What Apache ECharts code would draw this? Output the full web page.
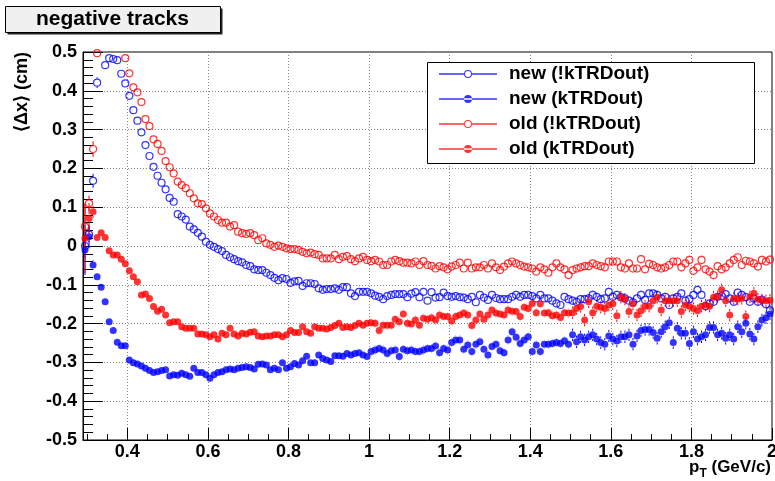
<!DOCTYPE html>
<html><head><meta charset="utf-8">
<script src="https://cdn.jsdelivr.net/npm/echarts@6/dist/echarts.min.js"></script>
<style>html,body{margin:0;padding:0;background:#fff}#c{width:775px;height:481px}</style>
</head><body><div id="c"></div><script>
// ---- binning ----
const PT_LOW = 0.29, BIN_WIDTH = 0.01;
const xTickLabels = [0.4, 0.6, 0.8, 1.0, 1.2, 1.4, 1.6, 1.8, 2.0];
const xMinorTicks = [0.3, 0.35, 0.45, 0.5, 0.55, 0.65, 0.7, 0.75, 0.85, 0.9, 0.95, 1.05, 1.1, 1.15,
  1.25, 1.3, 1.35, 1.45, 1.5, 1.55, 1.65, 1.7, 1.75, 1.85, 1.9, 1.95];
const seriesNames = ['new (!kTRDout)', 'new (kTRDout)', 'old (!kTRDout)', 'old (kTRDout)'];

// ---- <dx> per pT bin (null = off scale) ----
const newOpen = [
 0.000, 0.030, 0.168, 0.421, null, 0.466, 0.484, 0.482, 0.479, 0.444,
 0.419, 0.387, 0.350, 0.323, 0.293, 0.260, 0.232, 0.204, 0.181, 0.163,
 0.146, 0.124, 0.114, 0.082, 0.076, 0.068, 0.050, 0.043, 0.034, 0.024,
 0.011, 0.003, -0.002, -0.008, -0.013, -0.023, -0.029, -0.034, -0.039, -0.042,
 -0.049, -0.052, -0.060, -0.062, -0.062, -0.069, -0.075, -0.082, -0.088, -0.083,
 -0.085, -0.095, -0.091, -0.090, -0.103, -0.096, -0.096, -0.098, -0.109, -0.113,
 -0.111, -0.111, -0.109, -0.113, -0.106, -0.106, -0.122, -0.129, -0.118, -0.118,
 -0.118, -0.122, -0.128, -0.131, -0.137, -0.129, -0.126, -0.124, -0.124, -0.124,
 -0.132, -0.123, -0.119, -0.132, -0.118, -0.141, -0.119, -0.133, -0.132, -0.120,
 -0.129, -0.131, -0.129, -0.132, -0.133, -0.137, -0.131, -0.145, -0.126, -0.133,
 -0.139, -0.126, -0.134, -0.137, -0.137, -0.137, -0.131, -0.126, -0.131, -0.126,
 -0.126, -0.129, -0.135, -0.126, -0.135, -0.135, -0.141, -0.148, -0.152, -0.131,
 -0.137, -0.141, -0.144, -0.137, -0.137, -0.135, -0.126, -0.131, -0.137, -0.135,
 -0.118, -0.131, -0.126, -0.132, -0.135, -0.141, -0.145, -0.135, -0.126, -0.139,
 -0.122, -0.122, -0.126, -0.135, -0.131, -0.152, -0.135, -0.131, -0.122, -0.141,
 -0.137, -0.126, -0.113, -0.126, -0.155, -0.148, -0.144, -0.131, -0.129, -0.124,
 -0.135, -0.144, -0.120, -0.126, -0.132, -0.144, -0.135, -0.144, -0.138, -0.150,
 -0.166];
const newFull = [
 -0.010, 0.024, -0.049, -0.079, -0.106, -0.144, -0.195, -0.218, -0.248, -0.257,
 -0.257, -0.294, -0.301, -0.304, -0.309, -0.315, -0.321, -0.326, -0.324, -0.321,
 -0.319, -0.335, -0.332, -0.333, -0.328, -0.332, -0.336, -0.315, -0.326, -0.326,
 -0.332, -0.341, -0.332, -0.326, -0.324, -0.319, -0.317, -0.319, -0.315, -0.313,
 -0.311, -0.313, -0.317, -0.305, -0.304, -0.307, -0.319, -0.315, -0.319, -0.301,
 -0.315, -0.311, -0.303, -0.307, -0.296, -0.284, -0.301, -0.301, -0.281, -0.290,
 -0.294, -0.298, -0.283, -0.283, -0.284, -0.277, -0.281, -0.277, -0.275, -0.281,
 -0.285, -0.272, -0.268, -0.264, -0.268, -0.277, -0.270, -0.268, -0.285, -0.266,
 -0.270, -0.268, -0.272, -0.272, -0.268, -0.264, -0.264, -0.258, -0.275, -0.264,
 -0.268, -0.249, -0.242, -0.242, -0.266, -0.255, -0.272, -0.253, -0.247, -0.266,
 -0.281, -0.259, -0.253, -0.270, -0.275, -0.242, -0.221, -0.235, -0.251, -0.242,
 -0.234, -0.272, -0.255, -0.272, -0.253, -0.253, -0.251, -0.249, -0.251, -0.244,
 -0.253, -0.229, -0.247, -0.234, -0.242, -0.234, -0.229, -0.240, -0.249, -0.253,
 -0.232, -0.240, -0.245, -0.234, -0.234, -0.229, -0.253, -0.232, -0.218, -0.215,
 -0.215, -0.223, -0.238, -0.221, -0.208, -0.198, -0.249, -0.212, -0.225, -0.225,
 -0.251, -0.221, -0.240, -0.234, -0.229, -0.210, -0.210, -0.229, -0.225, -0.238,
 -0.229, -0.240, -0.208, -0.221, -0.199, -0.227, -0.240, -0.208, -0.191, -0.185,
 -0.175];
const oldOpen = [
 0.050, 0.110, 0.250, 0.497, null, null, null, null, null, null,
 0.484, 0.445, 0.409, 0.396, 0.371, 0.327, 0.309, 0.275, 0.263, 0.245,
 0.219, 0.203, 0.187, 0.166, 0.157, 0.149, 0.136, 0.123, 0.110, 0.108,
 0.097, 0.084, 0.076, 0.067, 0.060, 0.060, 0.050, 0.054, 0.037, 0.033,
 0.031, 0.033, 0.028, 0.015, 0.020, 0.007, 0.003, -0.002, 0.001, -0.002,
 -0.006, -0.008, -0.008, -0.010, -0.015, -0.019, -0.017, -0.021, -0.023, -0.032,
 -0.032, -0.032, -0.023, -0.034, -0.028, -0.026, -0.034, -0.039, -0.032, -0.028,
 -0.036, -0.039, -0.036, -0.040, -0.049, -0.049, -0.040, -0.036, -0.039, -0.043,
 -0.043, -0.045, -0.040, -0.049, -0.039, -0.049, -0.051, -0.058, -0.052, -0.055,
 -0.060, -0.053, -0.049, -0.043, -0.058, -0.043, -0.058, -0.055, -0.055, -0.049,
 -0.058, -0.045, -0.055, -0.062, -0.053, -0.045, -0.040, -0.045, -0.049, -0.053,
 -0.055, -0.058, -0.066, -0.055, -0.060, -0.069, -0.055, -0.045, -0.055, -0.060,
 -0.075, -0.062, -0.058, -0.055, -0.052, -0.052, -0.045, -0.049, -0.052, -0.055,
 -0.040, -0.040, -0.040, -0.055, -0.058, -0.045, -0.058, -0.058, -0.034, -0.060,
 -0.046, -0.049, -0.055, -0.058, -0.055, -0.049, -0.040, -0.040, -0.055, -0.045,
 -0.036, -0.064, -0.055, -0.036, -0.060, -0.066, -0.075, -0.052, -0.060, -0.055,
 -0.045, -0.036, -0.029, -0.049, -0.038, -0.040, -0.045, -0.053, -0.036, -0.040,
 -0.035];
const oldFull = [
 0.020, 0.071, 0.088, 0.022, 0.034, 0.022, -0.012, -0.023, -0.023, -0.034,
 -0.046, -0.064, -0.079, -0.092, -0.126, -0.124, -0.135, -0.156, -0.168, -0.163,
 -0.178, -0.198, -0.195, -0.195, -0.208, -0.212, -0.212, -0.212, -0.227, -0.227,
 -0.229, -0.234, -0.229, -0.240, -0.225, -0.229, -0.212, -0.227, -0.232, -0.225,
 -0.227, -0.222, -0.221, -0.232, -0.234, -0.232, -0.232, -0.229, -0.229, -0.234,
 -0.229, -0.218, -0.223, -0.223, -0.208, -0.221, -0.225, -0.208, -0.212, -0.212,
 -0.214, -0.210, -0.205, -0.199, -0.210, -0.208, -0.210, -0.205, -0.199, -0.204,
 -0.199, -0.198, -0.199, -0.218, -0.204, -0.204, -0.204, -0.189, -0.195, -0.175,
 -0.199, -0.201, -0.191, -0.204, -0.186, -0.189, -0.185, -0.191, -0.178, -0.182,
 -0.182, -0.193, -0.182, -0.178, -0.173, -0.178, -0.205, -0.191, -0.175, -0.189,
 -0.178, -0.165, -0.173, -0.175, -0.178, -0.165, -0.168, -0.169, -0.182, -0.158,
 -0.161, -0.148, -0.172, -0.149, -0.173, -0.172, -0.180, -0.178, -0.184, -0.172,
 -0.173, -0.172, -0.161, -0.156, -0.191, -0.144, -0.172, -0.155, -0.158, -0.161,
 -0.152, -0.149, -0.180, -0.132, -0.137, -0.169, -0.149, -0.178, -0.167, -0.155,
 -0.155, -0.141, -0.132, -0.165, -0.141, -0.141, -0.141, -0.141, -0.169, -0.152,
 -0.155, -0.161, -0.167, -0.155, -0.152, -0.155, -0.132, -0.131, -0.113, -0.141,
 -0.178, -0.135, -0.137, -0.135, -0.182, -0.131, -0.122, -0.137, -0.139, -0.141,
 -0.140];

// ---- error-bar half lengths ----
const errFirstNewOpen = [0.030, 0.020, 0.018, 0.014];
const errFirstNewFull = [0.065, 0.030, 0.012, 0.010];
const errFirstOldOpen = [0.060, 0.020, 0.020, 0.010];
const errFirstOldFull = [0.090, 0.040, 0.015, 0.010];
// [upper pT edge, typical error for open markers, typical error for full markers]
const errByRange = [[1.0, 0.004, 0.007], [1.5, 0.007, 0.011], [2.01, 0.011, 0.016]];

const FONT = "'Liberation Sans', Arial, Helvetica, sans-serif";
const BLUE = '#0000ff', RED = '#ff0000';

function buildPoints(vals, firstErr, isOpen) {
  const out = [];
  vals.forEach((v, i) => {
    if (v === null) return;
    const x = PT_LOW + BIN_WIDTH * (i + 0.5);
    let e;
    if (i < firstErr.length) e = firstErr[i];
    else { const r = errByRange.find(r => x <= r[0]); e = isOpen ? r[1] : r[2]; }
    out.push([x, v, e]);
  });
  return out;
}

const defs = [
  { name: seriesNames[0], vals: newOpen, first: errFirstNewOpen, open: true, color: BLUE },
  { name: seriesNames[1], vals: newFull, first: errFirstNewFull, open: false, color: BLUE },
  { name: seriesNames[2], vals: oldOpen, first: errFirstOldOpen, open: true, color: RED },
  { name: seriesNames[3], vals: oldFull, first: errFirstOldFull, open: false, color: RED }
];

const MR = 4; // marker radius in px (error bar gap)
const series = [];
defs.forEach((d, k) => {
  const pts = buildPoints(d.vals, d.first, d.open);
  series.push({
    type: 'custom', name: 'err' + k, silent: true, clip: true, animation: false,
    encode: { x: 0, y: 1 },
    data: pts,
    renderItem: function (params, api) {
      const x = api.value(0), y = api.value(1), e = api.value(2);
      const c = api.coord([x, y]), t = api.coord([x, y + e]), b = api.coord([x, y - e]);
      const ch = [];
      if (c[1] - t[1] > MR) ch.push({ type: 'line', shape: { x1: c[0], y1: t[1], x2: c[0], y2: c[1] - MR }, style: { stroke: d.color, lineWidth: 1 } });
      if (b[1] - c[1] > MR) ch.push({ type: 'line', shape: { x1: c[0], y1: c[1] + MR, x2: c[0], y2: b[1] }, style: { stroke: d.color, lineWidth: 1 } });
      return { type: 'group', children: ch };
    }
  });
  series.push({
    type: 'scatter', name: d.name, silent: true, clip: true, animation: false,
    data: pts.map(p => [p[0], p[1]]),
    symbol: 'circle', symbolSize: 7,
    itemStyle: d.open ? { color: 'rgba(0,0,0,0)', borderColor: d.color, borderWidth: 1.2 } : { color: d.color },
    emphasis: { disabled: true }
  });
});

const iconOpen = 'path://M0,3.25h25v1.5H0z M33,3.25h25v1.5H33z M25,4a4,4 0 1,0 8,0a4,4 0 1,0 -8,0z M26,4a3,3 0 1,1 6,0a3,3 0 1,1 -6,0z';
const iconFull = 'path://M0,3.25h58v1.5H0z M25,4a4,4 0 1,0 8,0a4,4 0 1,0 -8,0z';

const fmt = v => String(Math.round(v * 10) / 10);
const labelStyle = { fontFamily: FONT, fontWeight: 'bold', fontSize: 18, color: '#000' };

const chart = echarts.init(document.getElementById('c'), null, { renderer: 'canvas' });
chart.setOption({
  animation: false,
  backgroundColor: '#fff',
  title: {
    text: 'negative tracks', left: 36, top: 9, padding: 0, z: 10,
    textStyle: { fontFamily: FONT, fontWeight: 'bold', fontSize: 21, color: '#000' }
  },
  graphic: [
    { type: 'rect', z: 0, shape: { x: 7.5, y: 8.5, width: 215, height: 26 }, style: { fill: '#222' } },
    { type: 'rect', z: 1, shape: { x: 5.5, y: 6.5, width: 215, height: 26 }, style: { fill: '#f0f0f0', stroke: '#000', lineWidth: 1 } },
    { type: 'rect', z: 3, shape: { x: 427.5, y: 62.5, width: 327, height: 101 }, style: { fill: '#fff', stroke: '#000', lineWidth: 1 } },
    { type: 'text', z: 10, x: 771, y: 459,
      style: {
        text: '{a|p}{b|T}{a| (GeV/c)}', align: 'right', verticalAlign: 'top',
        rich: {
          a: { fontFamily: FONT, fontWeight: 'bold', fontSize: 17, lineHeight: 17, verticalAlign: 'top', fill: '#000' },
          b: { fontFamily: FONT, fontWeight: 'bold', fontSize: 12, lineHeight: 30, verticalAlign: 'middle', fill: '#000' }
        }
      }
    }
  ],
  legend: {
    data: defs.map(d => ({ name: d.name, icon: d.open ? iconOpen : iconFull, itemStyle: { color: d.color, borderWidth: 0 } })),
    orient: 'vertical', left: 439, top: 64, padding: 0, itemWidth: 58, itemHeight: 8, itemGap: 5,
    selectedMode: false, z: 5,
    textStyle: { fontFamily: FONT, fontWeight: 'bold', fontSize: 19, color: '#000', lineHeight: 20, padding: [0, 0, 0, 7] }
  },
  grid: { left: 83, right: 3, top: 52, bottom: 41, show: true, borderColor: '#000', borderWidth: 1,
          backgroundColor: 'transparent', containLabel: false, outerBoundsMode: 'none' },
  xAxis: [
    {
      type: 'value', min: PT_LOW, max: 2.0, position: 'bottom',
      axisLine: { show: true, onZero: false, lineStyle: { color: '#000', width: 1 } },
      axisTick: { show: true, inside: true, length: 12, customValues: xTickLabels, lineStyle: { color: '#000' } },
      axisLabel: Object.assign({ customValues: xTickLabels, formatter: fmt, margin: 3, hideOverlap: false }, labelStyle),
      splitLine: { show: true, lineStyle: { color: '#888', type: [1, 2], width: 1 } }
    },
    {
      type: 'value', min: PT_LOW, max: 2.0, position: 'bottom',
      axisLine: { show: false, onZero: false },
      axisTick: { show: true, inside: true, length: 6, customValues: xMinorTicks, lineStyle: { color: '#000' } },
      axisLabel: { show: false }, splitLine: { show: false }
    }
  ],
  yAxis: {
    type: 'value', min: -0.5, max: 0.5, interval: 0.1,
    axisLine: { show: true, onZero: false, lineStyle: { color: '#000', width: 1 } },
    axisTick: { show: true, inside: true, length: 20, lineStyle: { color: '#000' } },
    minorTick: { show: true, splitNumber: 5, length: 10, lineStyle: { color: '#000' } },
    splitLine: { show: true, lineStyle: { color: '#888', type: [1, 2], width: 1 } },
    axisLabel: Object.assign({ formatter: fmt, margin: 6 }, labelStyle),
    name: '⟨Δx⟩ (cm)', nameLocation: 'end', nameRotate: 90, nameGap: 0,
    nameTextStyle: { fontFamily: FONT, fontWeight: 'bold', fontSize: 18, color: '#000', align: 'right', verticalAlign: 'bottom', padding: [0, 0, 52, 0] }
  },
  series: series
});
</script></body></html>
